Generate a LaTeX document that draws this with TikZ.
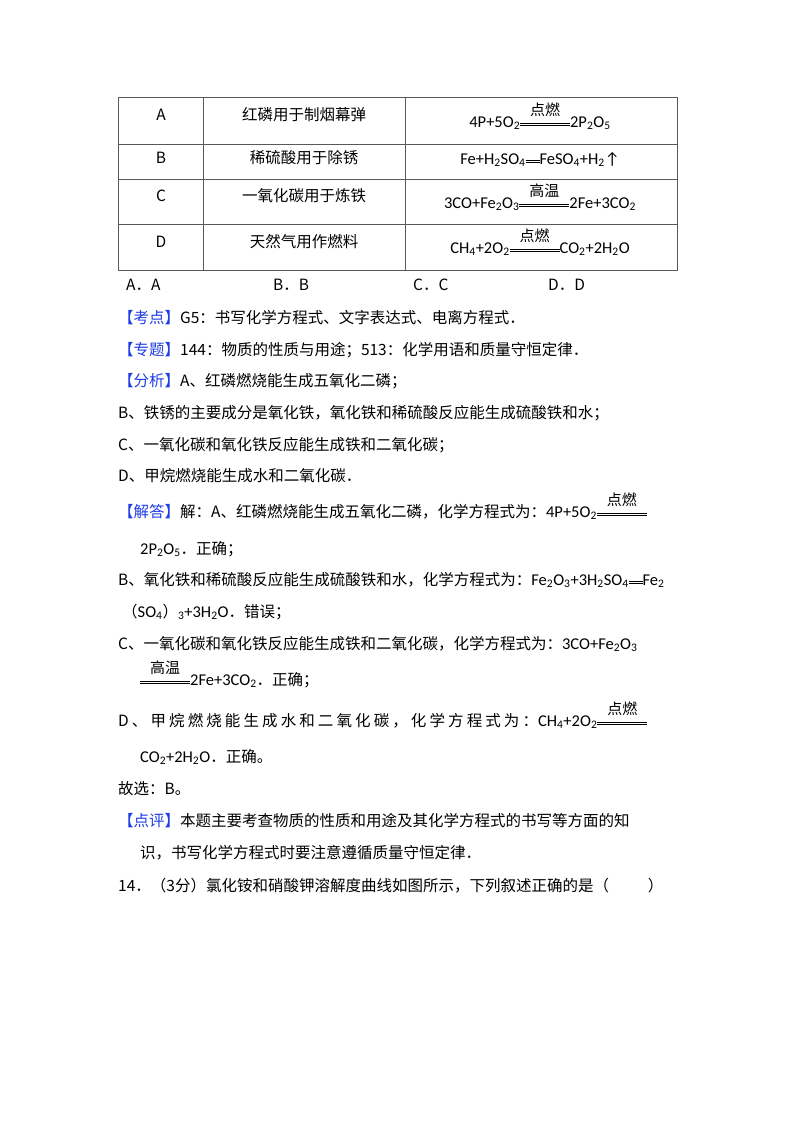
\documentclass[tikz,border=0pt]{standalone}
\usepackage{fontspec}
\setmainfont{Noto Sans CJK SC}
\newfontfamily\lat{Carlito}
\newfontfamily\cjk{Noto Sans CJK SC}
\definecolor{kblue}{RGB}{30,60,230}
\newcommand\subn[1]{\textsubscript{#1}}
\newcommand\dbl[1]{\rule[1.5pt]{#1}{0.6pt}\hspace{-#1}\rule[3.5pt]{#1}{0.6pt}}
\newcommand\cnd[2]{\begin{tabular}[b]{@{}c@{}}{\cjk\fontsize{15}{15}\selectfont #1}\\[-6pt]\dbl{#2}\end{tabular}}
\newcommand\kb[1]{{\color{kblue}【#1】}}
\tikzset{txt/.style={anchor=west,inner sep=0pt,font=\fontsize{15.5}{18}\selectfont},
 cell/.style={inner sep=0pt,font=\fontsize{15.5}{18}\selectfont},
 eq/.style={inner sep=0pt,font=\lat\fontsize{16.5}{18}\selectfont}}
\begin{document}
\begin{tikzpicture}[x=1pt,y=-1pt]
\useasboundingbox (0,0) rectangle (800,1132);
\fill[white] (0,0) rectangle (800,1132);
\draw[line width=0.7pt,gray!70!black] (118,97) rectangle (677,270);
\foreach \y in {144,179,224} \draw[line width=0.7pt,gray!70!black] (118,\y) -- (677,\y);
\foreach \x in {203,405} \draw[line width=0.7pt,gray!70!black] (\x,97) -- (\x,270);
\node[cell] (ra) at (161,115) {A};
\node[cell] (rb) at (161,158) {B};
\node[cell] (rc) at (161,196) {C};
\node[cell] (rd) at (161,242) {D};
\node[cell] (ua) at (304,115) {红磷用于制烟幕弹};
\node[cell] (ub) at (304,158) {稀硫酸用于除锈};
\node[cell] (uc) at (304,196) {一氧化碳用于炼铁};
\node[cell] (ud) at (304,242) {天然气用作燃料};
\node[eq,anchor=base] (ea) at (540,127) {4P+5O\subn2\cnd{点燃}{50pt}2P\subn2O\subn5};
\node[eq,anchor=base] (eb) at (540,164) {Fe+H\subn2SO\subn4\dbl{14pt}FeSO\subn4+H\subn2↑};
\node[eq,anchor=base] (ec) at (540,208) {3CO+Fe\subn2O\subn3\cnd{高温}{50pt}2Fe+3CO\subn2};
\node[eq,anchor=base] (ed) at (540,253) {CH\subn4+2O\subn2\cnd{点燃}{50pt}CO\subn2+2H\subn2O};
\node[txt] (ca) at (126,285) {A．A};
\node[txt] (cb) at (273,285) {B．B};
\node[txt] (cc) at (413,285) {C．C};
\node[txt] (cd) at (548,285) {D．D};
\node[txt] (k1) at (118,318) {\kb{考点}G5：书写化学方程式、文字表达式、电离方程式．};
\node[txt] (k2) at (118,350) {\kb{专题}144：物质的性质与用途；513：化学用语和质量守恒定律．};
\node[txt] (k3) at (118,381) {\kb{分析}A、红磷燃烧能生成五氧化二磷；};
\node[txt] (k4) at (118,413) {B、铁锈的主要成分是氧化铁，氧化铁和稀硫酸反应能生成硫酸铁和水；};
\node[txt] (k5) at (118,445) {C、一氧化碳和氧化铁反应能生成铁和二氧化碳；};
\node[txt] (k6) at (118,476) {D、甲烷燃烧能生成水和二氧化碳．};
\node[txt,anchor=base west] (j1) at (118,517) {\kb{解答}解：A、红磷燃烧能生成五氧化二磷，化学方程式为：{\lat\fontsize{16.5}{18}\selectfont 4P+5O\subn2\cnd{点燃}{50pt}}};
\node[txt] (j2) at (140,549) {{\lat\fontsize{16.5}{18}\selectfont 2P\subn2O\subn5}．正确；};
\node[txt] (j3) at (118,580) {B、氧化铁和稀硫酸反应能生成硫酸铁和水，化学方程式为：{\lat\fontsize{16.5}{18}\selectfont Fe\subn2O\subn3+3H\subn2SO\subn4\dbl{14pt}Fe\subn2}};
\node[txt] (j4) at (122,612) {（{\lat\fontsize{16.5}{18}\selectfont SO\subn4}）{\lat\fontsize{16.5}{18}\selectfont\subn3+3H\subn2O}．错误；};
\node[txt] (j5) at (118,644) {C、一氧化碳和氧化铁反应能生成铁和二氧化碳，化学方程式为：{\lat\fontsize{16.5}{18}\selectfont 3CO+Fe\subn2O\subn3}};
\node[txt,anchor=base west] (j6) at (140,685) {{\lat\fontsize{16.5}{18}\selectfont\cnd{高温}{50pt}2Fe+3CO\subn2}．正确；};
\node[txt,anchor=base west] (j7) at (118,726) {{\addfontfeature{LetterSpace=20}D、甲烷燃烧能生成水和二氧化碳，化学方程式为：}{\lat\fontsize{16.5}{18}\selectfont CH\subn4+2O\subn2\cnd{点燃}{50pt}}};
\node[txt] (j8) at (140,757) {{\lat\fontsize{16.5}{18}\selectfont CO\subn2+2H\subn2O}．正确。};
\node[txt] (j9) at (118,789) {故选：B。};
\node[txt] (p1) at (118,821) {\kb{点评}本题主要考查物质的性质和用途及其化学方程式的书写等方面的知};
\node[txt] (p2) at (140,853) {识，书写化学方程式时要注意遵循质量守恒定律．};
\node[txt] (q) at (118,886) {14．（3分）氯化铵和硝酸钾溶解度曲线如图所示，下列叙述正确的是（\hspace{2.5em}）};
\end{tikzpicture}
\end{document}
